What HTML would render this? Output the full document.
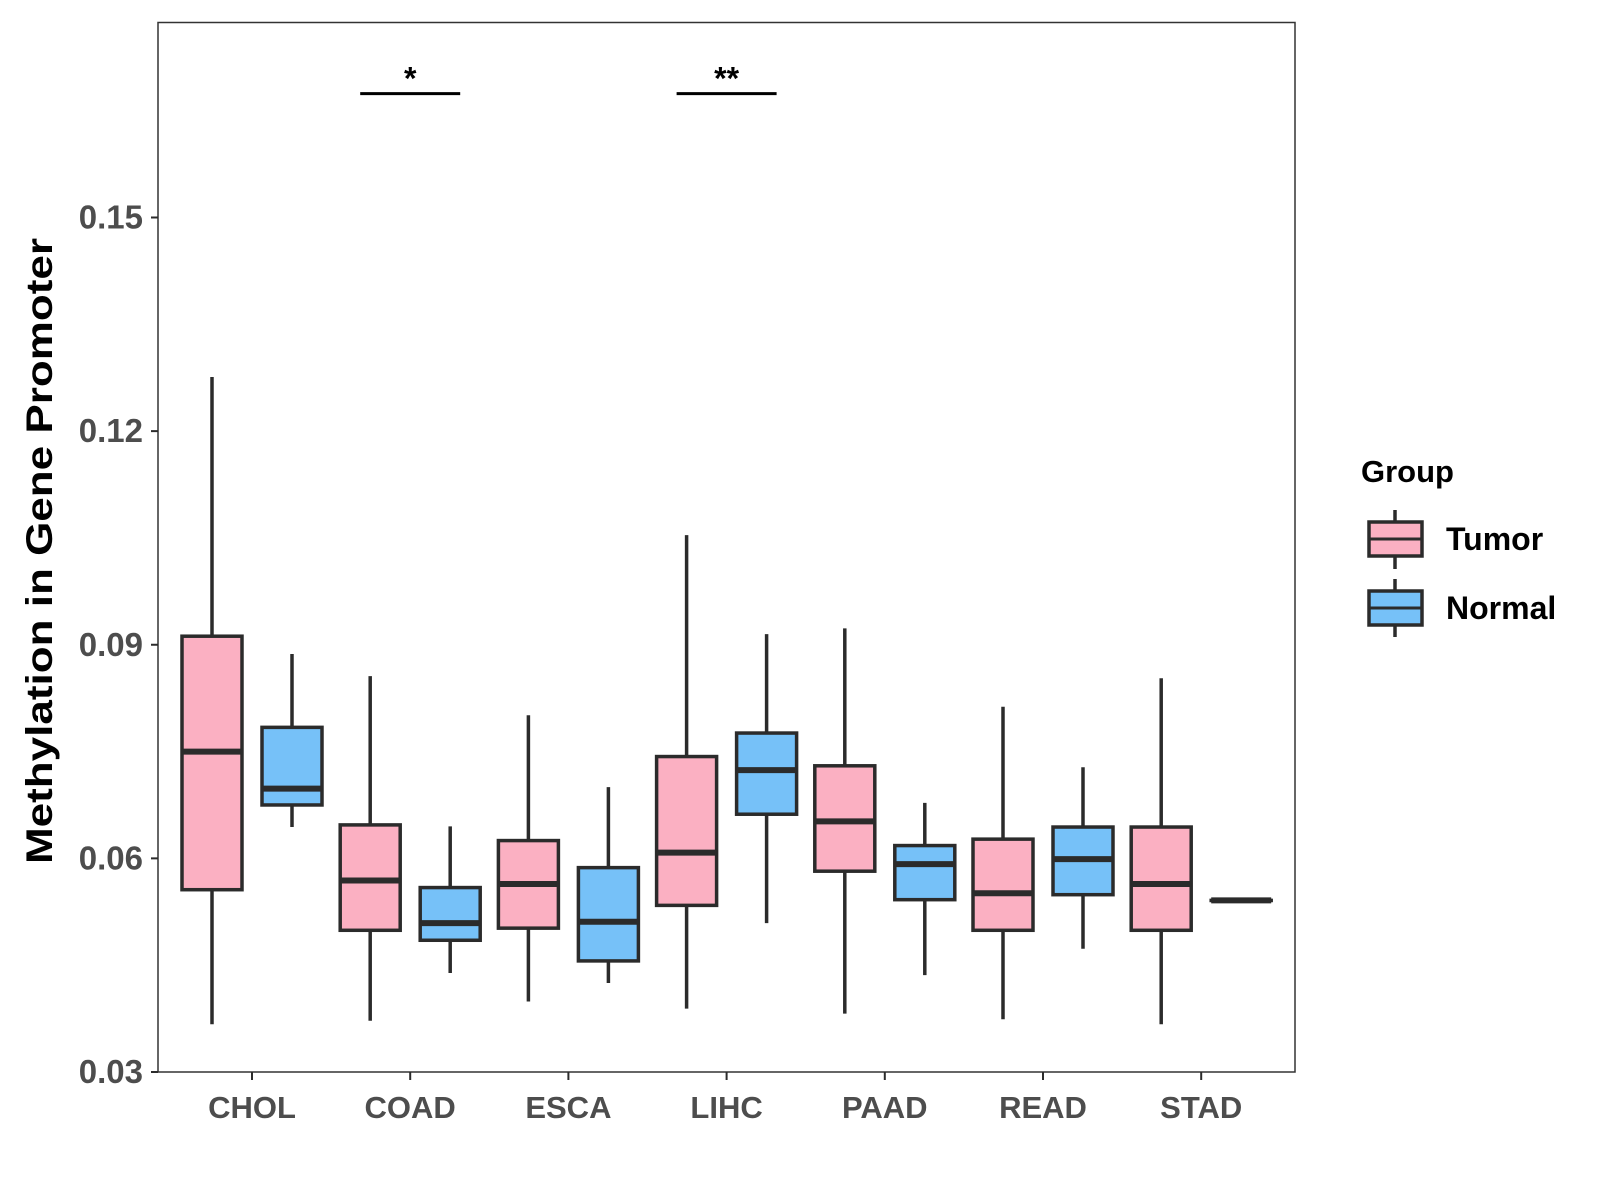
<!DOCTYPE html>
<html><head><meta charset="utf-8"><style>body{margin:0;background:#fff}svg{display:block}text{font-family:"Liberation Sans",Arial,sans-serif;font-weight:bold}</style></head>
<body>
<svg id="chart" width="1600" height="1200" xmlns="http://www.w3.org/2000/svg">
<rect x="158" y="22.5" width="1137" height="1049.5" fill="#fff" stroke="#333" stroke-width="1.5"/>
<g id="marks"></g>
<text transform="translate(52,551) rotate(-90)" text-anchor="middle" font-size="37" fill="#000" textLength="626" lengthAdjust="spacingAndGlyphs">Methylation in Gene Promoter</text>
<g transform="translate(-7,-1)">
<text x="1368" y="483" font-size="31" fill="#000">Group</text>
<g>
<line x1="1402" y1="511" x2="1402" y2="570" stroke="#2b2b2b" stroke-width="3.5"/>
<rect x="1376" y="523" width="53" height="34" fill="#FBB0C2" stroke="#2b2b2b" stroke-width="3.5"/>
<line x1="1376" y1="540" x2="1429" y2="540" stroke="#2b2b2b" stroke-width="3"/>
<text x="1453" y="551" font-size="32" fill="#000">Tumor</text></g>
<g>
<line x1="1402" y1="580" x2="1402" y2="638" stroke="#2b2b2b" stroke-width="3.5"/>
<rect x="1376" y="592" width="53" height="34" fill="#76C1F8" stroke="#2b2b2b" stroke-width="3.5"/>
<line x1="1376" y1="609" x2="1429" y2="609" stroke="#2b2b2b" stroke-width="3"/>
<text x="1453" y="620" font-size="32" fill="#000">Normal</text></g>
</g>
</svg>
<script>
const categories=["CHOL","COAD","ESCA","LIHC","PAAD","READ","STAD"];
const tumorLow=[0.0367,0.0372,0.0399,0.0389,0.0382,0.0374,0.0367];
const tumorQ1=[0.0556,0.0499,0.0502,0.0534,0.0582,0.0499,0.0499];
const tumorMed=[0.0750,0.0569,0.0564,0.0608,0.0652,0.0551,0.0564];
const tumorQ3=[0.0912,0.0647,0.0625,0.0743,0.0730,0.0627,0.0644];
const tumorHigh=[0.1276,0.0856,0.0801,0.1054,0.0923,0.0813,0.0853];
const normalLow=[0.0644,0.0439,0.0425,0.0509,0.0436,0.0473,0.0541];
const normalQ1=[0.0675,0.0485,0.0456,0.0662,0.0542,0.0549,0.0541];
const normalMed=[0.0698,0.0509,0.0511,0.0724,0.0592,0.0599,0.0541];
const normalQ3=[0.0784,0.0559,0.0587,0.0776,0.0618,0.0644,0.0541];
const normalHigh=[0.0887,0.0645,0.0700,0.0915,0.0678,0.0728,0.0541];
const yTicks=[0.03,0.06,0.09,0.12,0.15];
const yTickLabels=["0.03","0.06","0.09","0.12","0.15"];
const sigCategories=["COAD","LIHC"];
const sigLabels=["*","**"];
const sigLevel=[0.1674,0.1674];

const NS="http://www.w3.org/2000/svg";
const g=document.getElementById('marks');
function y(v){return 1072-(v-0.03)/0.12*854.5;}
function x(i){return 252+158.2*i;}
function mk(t,a){const e=document.createElementNS(NS,t);for(const k in a)e.setAttribute(k,a[k]);g.appendChild(e);return e;}
const C="#2b2b2b";
yTicks.forEach((v,i)=>{
 const t=mk('line',{x1:151,x2:158,y1:y(v),y2:y(v),stroke:C,'stroke-width':2});
 
 
 const l=mk('text',{x:143,y:y(v)+11,'text-anchor':'end','font-size':33,fill:'#4D4D4D'});
 l.textContent=yTickLabels[i];
 
 
});
categories.forEach((c,i)=>{
 const t=mk('line',{x1:x(i),x2:x(i),y1:1072,y2:1080,stroke:C,'stroke-width':2});
 
 
 const l=mk('text',{x:x(i),y:1118,'text-anchor':'middle','font-size':31,fill:'#4D4D4D'});
 l.textContent=c;
 
 
});
function box(cx,lo,q1,md,q3,hi,fill,name){
 const grp=document.createElementNS(NS,'g');g.appendChild(grp);
 
 
 const add=(t,a)=>{const e=document.createElementNS(NS,t);for(const k in a)e.setAttribute(k,a[k]);grp.appendChild(e);};
 add('line',{x1:cx,x2:cx,y1:y(hi),y2:y(lo),stroke:C,'stroke-width':3.5});
 add('rect',{x:cx-30,y:y(q3),width:60,height:Math.max(y(q1)-y(q3),0.1),fill:fill,stroke:C,'stroke-width':3.5});
 add('line',{x1:cx-30,x2:cx+30,y1:y(md),y2:y(md),stroke:C,'stroke-width':6});
}
categories.forEach((c,i)=>{
 box(x(i)-40,tumorLow[i],tumorQ1[i],tumorMed[i],tumorQ3[i],tumorHigh[i],'#FBB0C2','box-tumor-'+c.toLowerCase());
 box(x(i)+40,normalLow[i],normalQ1[i],normalMed[i],normalQ3[i],normalHigh[i],'#76C1F8','box-normal-'+c.toLowerCase());
});
sigCategories.forEach((c,k)=>{
 const i=categories.indexOf(c);
 const b=mk('line',{x1:x(i)-50,x2:x(i)+50,y1:y(sigLevel[k]),y2:y(sigLevel[k]),stroke:'#000','stroke-width':3});
 
 
 const s=mk('text',{x:x(i),y:y(sigLevel[k])-4,'text-anchor':'middle','font-size':32,fill:'#000'});
 s.textContent=sigLabels[k];
 
 
});
</script>
</body></html>
